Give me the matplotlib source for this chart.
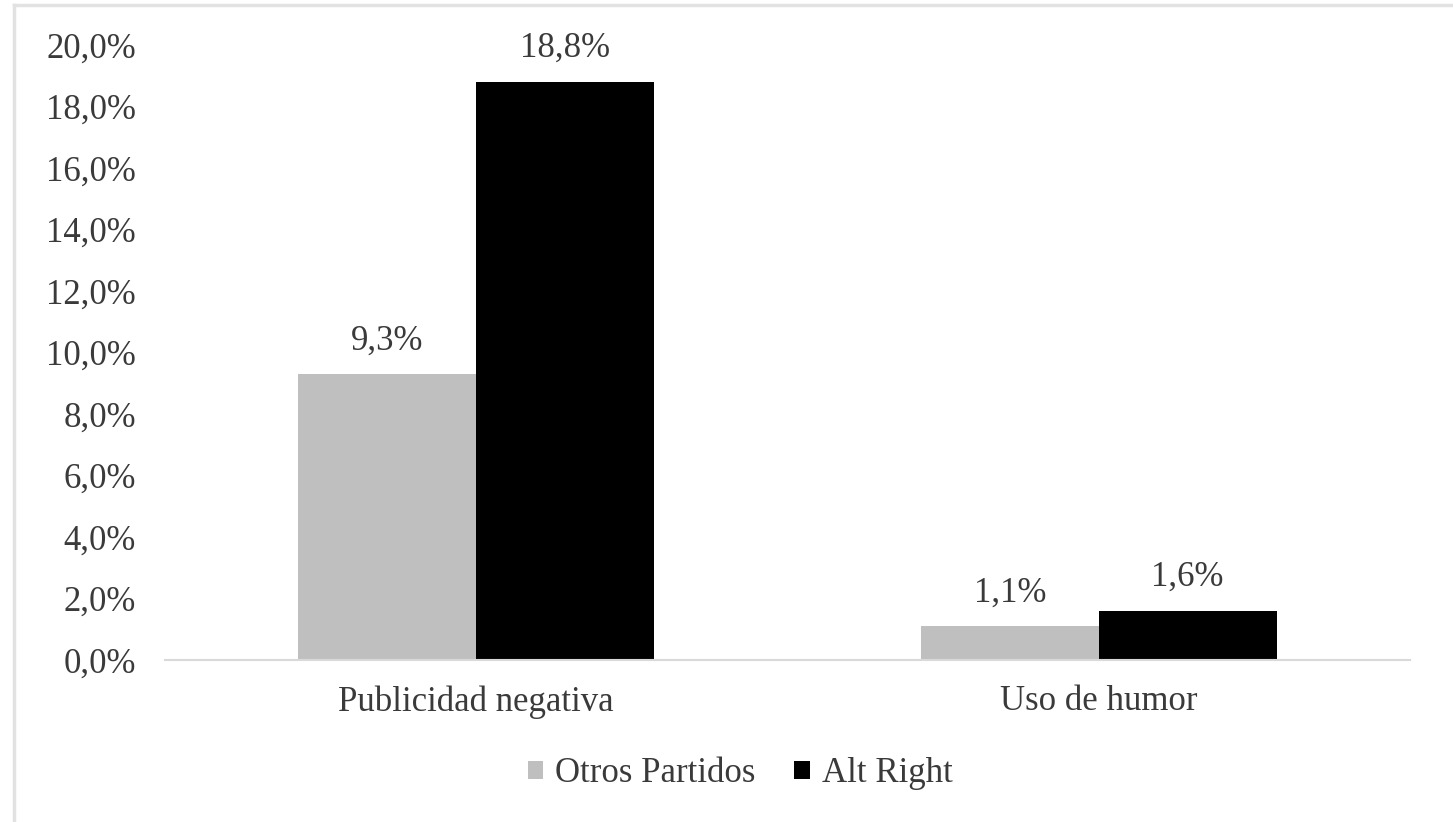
import numpy as np
import matplotlib.pyplot as plt
from matplotlib.lines import Line2D

categories = ["Publicidad negativa", "Uso de humor"]
series_names = ["Otros Partidos", "Alt Right"]
otros = [9.3, 1.1]
alt_right = [18.8, 1.6]
y_ticks = [0, 2, 4, 6, 8, 10, 12, 14, 16, 18, 20]

colors = ["#BFBFBF", "#000000"]
plt.rcParams['font.family'] = ['Liberation Serif', 'DejaVu Serif']

fig = plt.figure(figsize=(14.53, 8.22), dpi=100)
ax = fig.add_axes([165 / 1453, 1 - 660 / 822, (1410 - 165) / 1453, (660 - 45) / 822])

# light gray chart border (right/bottom fall off the picture)
fig.add_artist(Line2D([14 / 1453, 14 / 1453], [0, 1 - 5 / 822], transform=fig.transFigure,
                      color="#E2E2E2", lw=2.5))
fig.add_artist(Line2D([14 / 1453, 1], [1 - 5 / 822, 1 - 5 / 822], transform=fig.transFigure,
                      color="#E2E2E2", lw=2.5))

x = np.arange(len(categories))
width = 1 / 3.5
for i, (vals, name) in enumerate(zip([otros, alt_right], series_names)):
    pos = x + (i - 0.5) * width
    bars = ax.bar(pos, vals, width, color=colors[i], label=name)
    for b, v in zip(bars, vals):
        ax.annotate(f"{v:.1f}%".replace(".", ","), (b.get_x() + b.get_width() / 2, v),
                    xytext=(0, 12), textcoords="offset points", ha="center", va="bottom",
                    fontsize=25, color="#3A3A3A")

ax.set_xlim(-0.5, 1.5)
ax.set_ylim(0, 20)
ax.set_yticks(y_ticks)
ax.set_yticklabels([f"{t:.1f}%".replace(".", ",") for t in y_ticks], fontsize=25, color="#3A3A3A")
ax.set_xticks(x)
ax.set_xticklabels(categories, fontsize=25, color="#3A3A3A")
ax.tick_params(axis="both", length=0)
ax.tick_params(axis="y", pad=21)
ax.tick_params(axis="x", pad=18)

for s in ["top", "right", "left"]:
    ax.spines[s].set_visible(False)
ax.spines["bottom"].set_color("#D9D9D9")
ax.spines["bottom"].set_linewidth(1.5)

ax.legend(loc="center", bbox_to_anchor=(0.462, -0.185), ncol=2, frameon=False, fontsize=25,
          handlelength=0.45, handleheight=0.45, handletextpad=0.35, columnspacing=1.1,
          labelcolor="#3A3A3A")

fig.savefig("out.png", dpi=100)
